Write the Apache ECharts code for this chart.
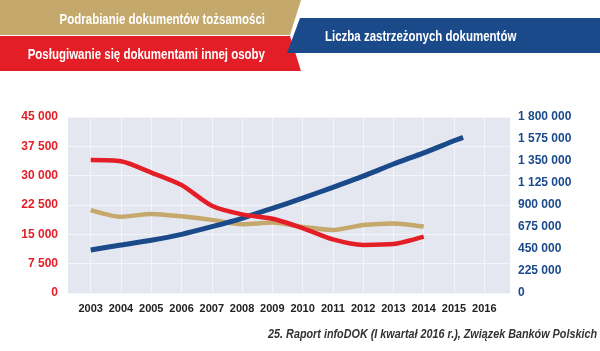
<!DOCTYPE html>
<html>
<head>
<meta charset="utf-8">
<script src="https://cdn.jsdelivr.net/npm/echarts@6/dist/echarts.min.js"></script>
<style>
html,body{margin:0;padding:0;background:#fff;}
#chart{width:600px;height:351px;}
</style>
</head>
<body>
<div id="chart"></div>
<script>
// ---- data ----
var yearTicks = [2003, 2004, 2005, 2006, 2007, 2008, 2009, 2010, 2011, 2012, 2013, 2014, 2015, 2016];
var yearsShort = [2003, 2004, 2005, 2006, 2007, 2008, 2009, 2010, 2011, 2012, 2013, 2014];
var podrabianie = [21200, 19500, 20200, 19600, 18700, 17600, 18000, 16900, 16100, 17400, 17800, 17000];
var poslugiwanie = [34000, 33700, 30800, 27600, 22300, 20100, 19000, 16600, 13700, 12300, 12500, 14400];
var yearsLong = [2003, 2004, 2005, 2006, 2007, 2008, 2009, 2010, 2011, 2012, 2013, 2014, 2015, 2015.3];
var zastrzezone = [440000, 490000, 540000, 600000, 678000, 764000, 866000, 970000, 1081000, 1195000, 1319000, 1433000, 1557000, 1592000];
var leftTicks = [0, 7500, 15000, 22500, 30000, 37500, 45000];
var rightTicks = [0, 225000, 450000, 675000, 900000, 1125000, 1350000, 1575000, 1800000];
var labelPodrabianie = 'Podrabianie dokumentów tożsamości';
var labelPoslugiwanie = 'Posługiwanie się dokumentami innej osoby';
var labelZastrzezone = 'Liczba zastrzeżonych dokumentów';
var sourceText = '25. Raport infoDOK (I kwartał 2016 r.), Związek Banków Polskich';

var GOLD = '#c5a86c', RED = '#e31e26', BLUE = '#1b4a8b';
var FONT = '"Liberation Sans", Arial, sans-serif';

function fmt(v) {
  return String(v).replace(/\B(?=(\d{3})+(?!\d))/g, ' ');
}
function pairs(xs, ys) { return xs.map(function (x, i) { return [x, ys[i]]; }); }

var chart = echarts.init(document.getElementById('chart'), null, {renderer: 'canvas'});
chart.setOption({
  animation: false,
  backgroundColor: '#ffffff',
  grid: {
    left: 68, right: 90, top: 117, bottom: 58,
    show: true, backgroundColor: '#e4e7f0', borderWidth: 0,
    containLabel: false
  },
  xAxis: {
    type: 'value', min: 2002.25, max: 2016.85,
    axisLine: {show: false}, axisTick: {show: false, customValues: yearTicks},
    splitLine: {show: true, lineStyle: {color: '#f4f5fa', width: 1}},
    axisLabel: {
      customValues: yearTicks, margin: 10, showMinLabel: true, showMaxLabel: true, hideOverlap: false,
      color: '#222', fontFamily: FONT, fontWeight: 'bold', fontSize: 11,
      formatter: function (v) { return String(Math.round(v)); }
    }
  },
  yAxis: [{
    type: 'value', min: 0, max: 45000, interval: 7500, position: 'left',
    axisLine: {show: false}, axisTick: {show: false},
    splitLine: {show: true, lineStyle: {color: '#f4f5fa', width: 1}},
    axisLabel: {color: RED, fontFamily: FONT, fontWeight: 'bold', fontSize: 12, margin: 10,
      formatter: function (v) { return fmt(v); }}
  }, {
    type: 'value', min: 0, max: 1800000, interval: 225000, position: 'right',
    axisLine: {show: false}, axisTick: {show: false}, splitLine: {show: false},
    axisLabel: {color: BLUE, fontFamily: FONT, fontWeight: 'bold', fontSize: 12, margin: 8,
      formatter: function (v) { return fmt(v); }}
  }],
  series: [{
    name: labelPodrabianie, type: 'line', yAxisIndex: 0, smooth: 0.25,
    showSymbol: false, symbol: 'none',
    lineStyle: {color: GOLD, width: 4.5},
    data: pairs(yearsShort, podrabianie)
  }, {
    name: labelZastrzezone, type: 'line', yAxisIndex: 1, smooth: 0.25,
    showSymbol: false, symbol: 'none',
    lineStyle: {color: BLUE, width: 5},
    data: pairs(yearsLong, zastrzezone)
  }, {
    name: labelPoslugiwanie, type: 'line', yAxisIndex: 0, smooth: 0.25,
    showSymbol: false, symbol: 'none',
    lineStyle: {color: RED, width: 4.5},
    data: pairs(yearsShort, poslugiwanie)
  }],
  graphic: [
    {type: 'polygon', shape: {points: [[0, 0], [301, 0], [290, 35], [0, 35]]}, style: {fill: GOLD}, z: 1},
    {type: 'polygon', shape: {points: [[0, 36], [290, 36], [301, 71], [0, 71]]}, style: {fill: RED}, z: 1},
    {type: 'polygon', shape: {points: [[300, 18], [600, 18], [600, 53], [287, 53]]}, style: {fill: BLUE}, z: 2},
    {type: 'text', x: 265, y: 20, scaleX: 0.82, z: 3,
      style: {text: labelPodrabianie, fill: '#fff', font: 'bold 14px ' + FONT, textAlign: 'right', textVerticalAlign: 'middle'}},
    {type: 'text', x: 265, y: 55, scaleX: 0.82, z: 3,
      style: {text: labelPoslugiwanie, fill: '#fff', font: 'bold 14px ' + FONT, textAlign: 'right', textVerticalAlign: 'middle'}},
    {type: 'text', x: 325, y: 37, scaleX: 0.82, z: 3,
      style: {text: labelZastrzezone, fill: '#fff', font: 'bold 14px ' + FONT, textAlign: 'left', textVerticalAlign: 'middle'}},
    {type: 'text', x: 597, y: 335, scaleX: 0.9, z: 3,
      style: {text: sourceText, fill: '#333', font: 'italic bold 12px ' + FONT, textAlign: 'right', textVerticalAlign: 'middle'}}
  ]
});
</script>
</body>
</html>
